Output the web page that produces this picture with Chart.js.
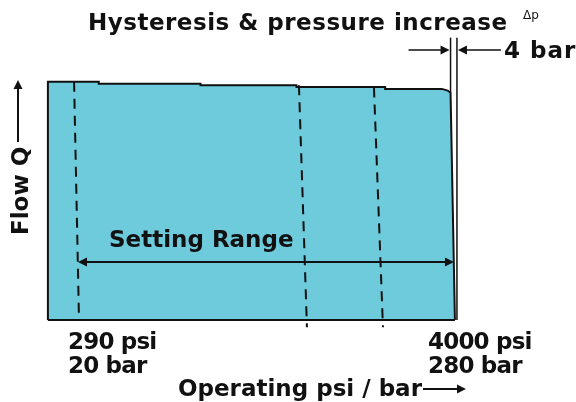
<!DOCTYPE html>
<html>
<head>
<meta charset="utf-8">
<script src="https://cdn.jsdelivr.net/npm/chart.js@4/dist/chart.umd.min.js"></script>
<style>
  html, body { margin: 0; padding: 0; background: #fff; }
  #wrap { width: 576px; height: 402px; position: relative; }
</style>
</head>
<body>
<div id="wrap"><canvas id="chart"></canvas></div>
<script>
// pressure in bar, flow in % of max
const pressureBar = [0, 0, 35, 35, 105, 105, 171, 171, 232, 232, 271, 275, 277, 280];
const flowQ = [0, 100, 100, 99.2, 99.2, 98.5, 98.5, 97.8, 97.8, 97, 97, 96.3, 95.4, 0];

// dashed markers (slightly slanted in the drawing): [bar at top, bar at bottom], [flow top, flow bottom]
const markerBar = [[18, 21.4], [172.7, 178.2], [224.3, 230.5]];
const markerFlow = [[100, 0], [98.5, -3], [97.6, -3]];

// hysteresis lines
const hystBar = [277, 281.4];
const hystFlow = [[95.4, 118.5], [0, 118.5]];

const rangeMin = 20, rangeMax = 280;
const labelLow = ['290 psi', '20 bar'];
const labelHigh = ['4000 psi', '280 bar'];

const fillColor = '#6dcbdc';
const FONT = '"DejaVu Sans", "Liberation Sans", sans-serif';

function pts(xs, ys) {
    return xs.map((x, i) => ({ x: x, y: ys[i] }));
}

const datasets = [
    {
        data: pts(pressureBar, flowQ),
        borderColor: '#111',
        borderWidth: 2,
        backgroundColor: fillColor,
        fill: 'origin',
        pointRadius: 0,
        tension: 0,
        order: 10
    },
    {
        data: pts([0, 280], [0, 0]),
        borderColor: '#111',
        borderWidth: 2,
        pointRadius: 0,
        order: 5
    }
];
markerBar.forEach((b, i) => {
    datasets.push({
        data: pts(b, markerFlow[i]),
        borderColor: '#111',
        borderWidth: 2,
        borderDash: [10, 7],
        pointRadius: 0,
        order: 1
    });
});
hystBar.forEach((b, i) => {
    datasets.push({
        data: pts([b, b], hystFlow[i]),
        borderColor: '#111',
        borderWidth: 1.5,
        pointRadius: 0,
        order: 1
    });
});

function arrowHead(ctx, x, y, dir) {
    // dir: angle in radians the arrow points to
    ctx.save();
    ctx.translate(x, y);
    ctx.rotate(dir);
    ctx.beginPath();
    ctx.moveTo(0, 0);
    ctx.lineTo(-9, -4.5);
    ctx.lineTo(-9, 4.5);
    ctx.closePath();
    ctx.fill();
    ctx.restore();
}

function line(ctx, x1, y1, x2, y2, w) {
    ctx.lineWidth = w;
    ctx.beginPath();
    ctx.moveTo(x1, y1);
    ctx.lineTo(x2, y2);
    ctx.stroke();
}

const annotations = {
    id: 'annotations',
    afterDraw(chart) {
        const ctx = chart.ctx;
        const xs = chart.scales.x, ys = chart.scales.y;
        ctx.save();
        ctx.fillStyle = '#111';
        ctx.strokeStyle = '#111';

        // setting range double arrow
        const yr = ys.getPixelForValue(24.3);
        const x1 = xs.getPixelForValue(rangeMin), x2 = xs.getPixelForValue(rangeMax);
        line(ctx, x1 + 4, yr, x2 - 4, yr, 2);
        arrowHead(ctx, x1 + 1, yr, Math.PI);
        arrowHead(ctx, x2 - 1, yr, 0);

        // hysteresis arrows
        const yh = ys.getPixelForValue(113.3);
        const hl = xs.getPixelForValue(hystBar[0]), hr = xs.getPixelForValue(hystBar[1]);
        line(ctx, hl - 42, yh, hl - 4, yh, 1.5);
        arrowHead(ctx, hl - 1, yh, 0);
        line(ctx, hr + 4, yh, hr + 44, yh, 1.5);
        arrowHead(ctx, hr + 1, yh, Math.PI);

        // flow axis arrow
        line(ctx, 18, 142, 18, 86, 2);
        arrowHead(ctx, 18, 80, -Math.PI / 2);

        // operating axis arrow
        line(ctx, 423, 389, 458, 389, 2);
        arrowHead(ctx, 466, 389, 0);

        ctx.textBaseline = 'alphabetic';
        ctx.textAlign = 'left';
        ctx.font = 'bold 23px ' + FONT;
        ctx.letterSpacing = '0.5px';
        ctx.fillText('Hysteresis & pressure increase', 88, 30);
        ctx.letterSpacing = '0px';
        ctx.fillText('Setting Range', 109, 247);
        ctx.fillText('Operating psi / bar', 178, 396);
        ctx.letterSpacing = '-0.8px';
        ctx.fillText(labelLow[0], 68, 349);
        ctx.fillText(labelLow[1], 68, 373);
        ctx.fillText(labelHigh[0], 428, 349);
        ctx.fillText(labelHigh[1], 428, 373);
        ctx.letterSpacing = '1px';
        ctx.fillText('4 bar', 504, 58);

        ctx.letterSpacing = '0px';
        ctx.font = '12px ' + FONT;
        ctx.fillText('\u0394p', 523, 19);

        // rotated Flow Q
        ctx.save();
        ctx.translate(28, 235);
        ctx.rotate(-Math.PI / 2);
        ctx.font = 'bold 23px ' + FONT;
        ctx.fillText('Flow Q', 0, 0);
        ctx.restore();

        ctx.restore();
    }
};

new Chart(document.getElementById('chart'), {
    type: 'line',
    data: { datasets: datasets },
    options: {
        responsive: true,
        maintainAspectRatio: false,
        animation: false,
        layout: { padding: 0 },
        plugins: {
            legend: { display: false },
            tooltip: { enabled: false }
        },
        scales: {
            x: { type: 'linear', min: -32.95, max: 363.3, display: false },
            y: { type: 'linear', min: -34.4, max: 134.3, display: false }
        }
    },
    plugins: [annotations]
});
</script>
</body>
</html>
